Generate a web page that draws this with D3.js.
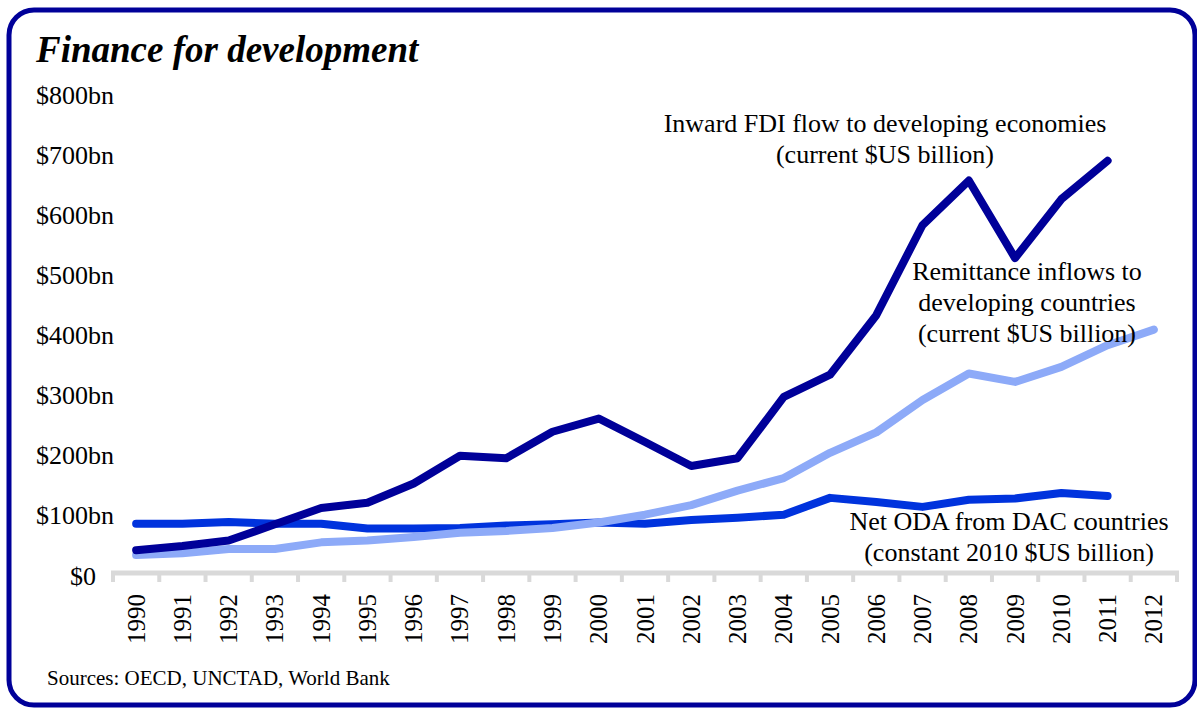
<!DOCTYPE html>
<html>
<head>
<meta charset="utf-8">
<script src="https://cdn.jsdelivr.net/npm/d3@7"></script>
<style>
  html, body { margin: 0; padding: 0; background: #fff; }
  svg { display: block; font-family: "Liberation Serif", "Times New Roman", serif; }
</style>
</head>
<body>
<svg id="chart" width="1197" height="708"></svg>
<script>
// ---- data ----
const years = ["1990","1991","1992","1993","1994","1995","1996","1997","1998","1999","2000",
               "2001","2002","2003","2004","2005","2006","2007","2008","2009","2010","2011","2012"];
const fdi = [38,45,54,81,108,117,149,195,191,235,257,218,178,191,293,330,429,579,653,524,622,686,null];
const remittances = [30,33,40,40,51,54,60,67,70,75,84,97,113,137,158,200,234,288,332,318,343,379,405];
const oda = [82,82,85,82,82,74,74,75,79,81,84,82,88,92,97,125,118,110,122,124,133,128,null];
const yTicks = [0,100,200,300,400,500,600,700,800];
const title = "Finance for development";
const source = "Sources: OECD, UNCTAD, World Bank";
const fdiLabel = ["Inward FDI flow to developing economies", "(current $US billion)"];
const remLabel = ["Remittance inflows to", "developing countries", "(current $US billion)"];
const odaLabel = ["Net ODA from DAC countries", "(constant 2010 $US billion)"];

// ---- layout ----
const svg = d3.select("#chart");
const x = d3.scaleBand().domain(years).range([113, 1177]).padding(0);
const y = d3.scaleLinear().domain([0, 800]).range([573, 92.2]);

// frame
svg.append("rect")
  .attr("x", 9).attr("y", 10).attr("width", 1186).attr("height", 695)
  .attr("rx", 25).attr("ry", 25)
  .attr("fill", "#fff").attr("stroke", "#000099").attr("stroke-width", 5);

// title
svg.append("text").text(title)
  .attr("x", 36).attr("y", 62)
  .attr("font-size", 37).attr("font-weight", "bold").attr("font-style", "italic")
  .attr("fill", "#000");

// y tick labels
svg.append("g").selectAll("text").data(yTicks).join("text")
  .attr("x", d => d === 0 ? 96 : 114)
  .attr("y", d => y(d))
  .attr("dy", 11.5)
  .attr("text-anchor", "end")
  .attr("font-size", 26)
  .attr("fill", "#000")
  .text(d => d === 0 ? "$0" : "$" + d + "bn");

// x axis
const axisG = svg.append("g");
const boundaries = years.map(yr => x(yr)).concat([x(years[years.length - 1]) + x.bandwidth()]);
axisG.selectAll("line.tick").data(boundaries).join("line")
  .attr("class", "tick")
  .attr("x1", d => d).attr("x2", d => d)
  .attr("y1", 573).attr("y2", 582)
  .attr("stroke", "#D9D9D9").attr("stroke-width", 4);
axisG.append("line")
  .attr("x1", boundaries[0] - 2).attr("x2", boundaries[boundaries.length - 1] + 2)
  .attr("y1", 573).attr("y2", 573)
  .attr("stroke", "#D9D9D9").attr("stroke-width", 5);

axisG.selectAll("text").data(years).join("text")
  .attr("transform", d => `translate(${x(d) + x.bandwidth() / 2},594) rotate(-90)`)
  .attr("text-anchor", "end")
  .attr("dy", "0.34em")
  .attr("font-size", 25)
  .attr("fill", "#000")
  .text(d => d);

// lines
const line = d3.line()
  .defined(d => d.v != null)
  .x(d => x(d.year) + x.bandwidth() / 2)
  .y(d => y(d.v));

const series = [
  { values: oda, color: "#0033DD" },
  { values: remittances, color: "#8DAAF8" },
  { values: fdi, color: "#000099" }
];
series.forEach(s => {
  svg.append("path")
    .datum(years.map((yr, i) => ({ year: yr, v: s.values[i] })))
    .attr("d", line)
    .attr("fill", "none")
    .attr("stroke", s.color)
    .attr("stroke-width", 8)
    .attr("stroke-linecap", "round")
    .attr("stroke-linejoin", "round");
});

// annotations
function block(lines, cx, y0) {
  svg.append("g").selectAll("text").data(lines).join("text")
    .attr("x", cx).attr("y", (d, i) => y0 + i * 31)
    .attr("text-anchor", "middle")
    .attr("font-size", 26)
    .attr("fill", "#000")
    .text(d => d);
}
block(fdiLabel, 885, 132);
block(remLabel, 1027, 280);
block(odaLabel, 1009, 530);

// source
svg.append("text").text(source)
  .attr("x", 47).attr("y", 685)
  .attr("font-size", 21).attr("fill", "#000");
</script>
</body>
</html>
